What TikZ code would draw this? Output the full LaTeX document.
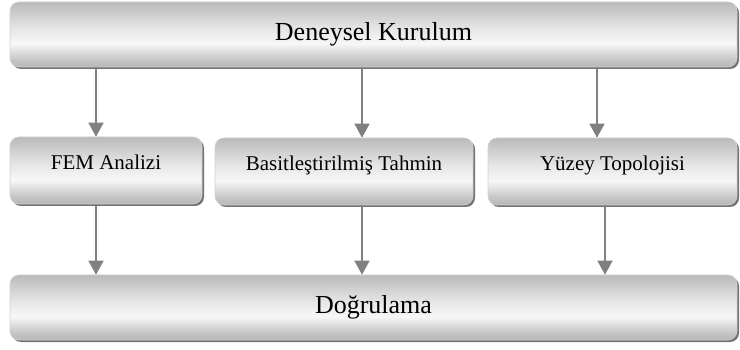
\documentclass[tikz,border=0pt]{standalone}
\usepackage{fontspec}
\setmainfont{Liberation Serif}
\usetikzlibrary{arrows.meta,shadows}
\pgfdeclareverticalshading{boxshade}{100bp}{%
  color(0bp)=(black!28);
  color(25bp)=(black!28);
  color(31bp)=(black!22);
  color(43bp)=(black!3);
  color(55bp)=(black!10);
  color(75bp)=(black!27);
  color(100bp)=(black!27)}
\tikzset{
  box/.style={rounded corners=9pt, shading=boxshade, draw=black!18, line width=0.6pt,
    drop shadow={shadow xshift=2pt, shadow yshift=-2pt, fill=black!55, opacity=1},
    inner sep=0pt, text=black},
  bigtext/.style={font=\fontsize{26}{30}\selectfont},
  smalltext/.style={font=\fontsize{21}{25}\selectfont, text height=14pt, text depth=16pt},
  arr/.style={draw=black!50, line width=1.5pt, -{Triangle[length=14pt,width=15pt]}}
}
\begin{document}
\begin{tikzpicture}[x=1pt,y=-1pt]
\useasboundingbox (0,0) rectangle (740,350);
% boxes
\node[box,bigtext,minimum width=727pt,minimum height=65pt] (top) at (373.5,34.5) {Deneysel Kurulum};
\node[box,smalltext,minimum width=192pt,minimum height=67pt] (fem) at (106,170.5) {FEM Analizi};
\node[box,smalltext,minimum width=258pt,minimum height=67pt] (bas) at (344,171.5) {Basitleştirilmiş Tahmin};
\node[box,smalltext,minimum width=249pt,minimum height=67pt] (yuz) at (612.5,171.5) {Yüzey Topolojisi};
\node[box,bigtext,minimum width=727pt,minimum height=65pt] (bot) at (373.5,307.5) {Doğrulama};
% arrow positions
\coordinate (xa) at (96,0);
\coordinate (xb) at (362,0);
\coordinate (xc) at (597,0);
\coordinate (xd) at (605,0);
% arrows
\draw[arr] (top.south -| xa) -- (fem.north -| xa);
\draw[arr] (top.south -| xb) -- (bas.north -| xb);
\draw[arr] (top.south -| xc) -- (yuz.north -| xc);
\draw[arr] (fem.south -| xa) -- (bot.north -| xa);
\draw[arr] (bas.south -| xb) -- (bot.north -| xb);
\draw[arr] (yuz.south -| xd) -- (bot.north -| xd);
\end{tikzpicture}
\end{document}
